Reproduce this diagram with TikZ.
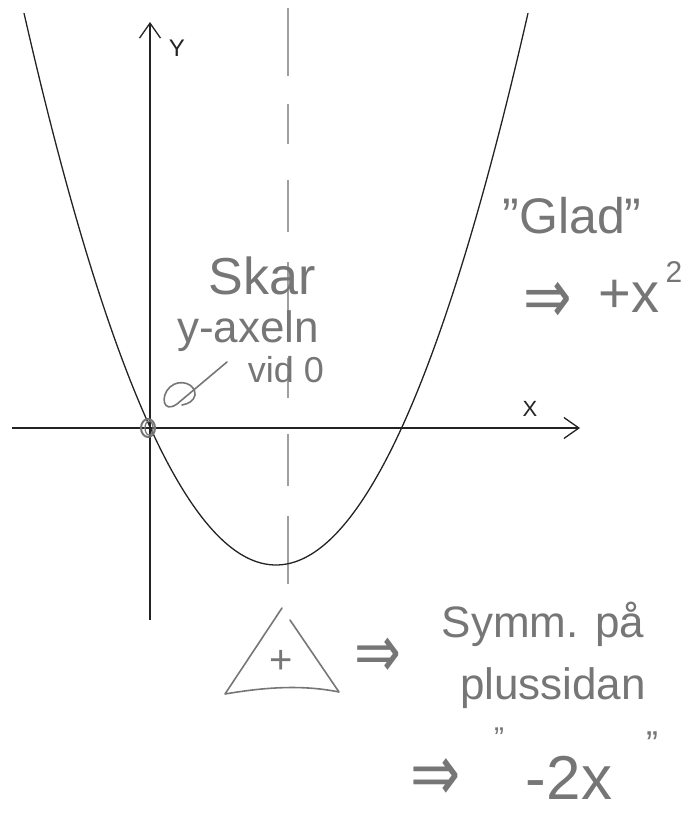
\documentclass[tikz,border=0pt]{standalone}
\usepackage{fontspec}
\setmainfont{Liberation Sans}
\newfontfamily\symfont{DejaVu Sans}
\usetikzlibrary{arrows.meta}
\definecolor{pencil}{RGB}{118,118,118}
\definecolor{ink}{RGB}{35,35,35}
\begin{document}
\begin{tikzpicture}[x=1pt,y=-1pt,
  axisline/.style={ink, line width=1.3pt, -{Straight Barb[length=15pt,width=21pt,line width=1.3pt]}},
  curve/.style={ink, line width=1.3pt},
  hand/.style={text=pencil, inner sep=0pt},
  implies/.style={text=pencil, inner sep=0pt, yscale=-1.35, transform shape},
  pen/.style={pencil, line width=1.6pt, line cap=round, line join=round},
  lbl/.style={text=ink, inner sep=0pt}]
\useasboundingbox (0,0) rectangle (699,813);
% symmetry line
\draw[pencil!70, line width=1.3pt, dash pattern=on 68pt off 28pt on 40pt off 36pt on 52pt off 30pt]
  (288,8) -- (288,598);
% axes
\coordinate (xs) at (12,428);
\coordinate (xe) at (580,428);
\coordinate (ys) at (150,620);
\coordinate (ye) at (150,22);
\draw[axisline] (xs) -- (xe);
\draw[axisline] (ys) -- (ye);
\node[lbl, font=\fontsize{22}{24}\selectfont] (xl) at (530,409) {X};
\node[lbl, font=\fontsize{24}{26}\selectfont] (yl) at (177,48) {Y};
% parabola
\draw[curve] plot[domain=24:528, samples=120, smooth] (\x, {565-0.869*((\x-276)/10)^2});
% origin mark
\draw[pencil, line width=2pt] (148,428) ellipse [x radius=7, y radius=9];
\draw[pencil, line width=1.2pt] (149,428) ellipse [x radius=4, y radius=7];
% annotations
\node[hand, font=\fontsize{52}{60}\selectfont] (skar) at (262,276) {Skar};
\node[hand, font=\fontsize{44}{50}\selectfont] (yax) at (248,331) {y-axeln};
\node[hand, font=\fontsize{36}{44}\selectfont] (vid) at (286,370) {vid 0};
\coordinate (p1) at (227,362);
\coordinate (p2) at (177,404);
\draw[pen] (p1) -- (p2) .. controls (163,414) and (160,396) .. (170,387)
  .. controls (180,378) and (196,384) .. (195,395) .. controls (194,401) and (188,404) .. (182,405);
\node[hand, font=\fontsize{50}{60}\selectfont] (glad) at (572,216) {"Glad"};
\node[implies, font=\symfont\fontsize{58}{62}\selectfont] (imp1) at (548,295) {⇒};
\node[hand, font=\fontsize{56}{60}\selectfont] (plusx) at (629,296) {+x};
\node[hand, font=\fontsize{30}{34}\selectfont] (sq) at (674,272) {2};
% triangle
\coordinate (ta) at (282,608);
\coordinate (tb) at (225,694);
\coordinate (tc) at (339,692);
\coordinate (td) at (290,620);
\draw[pen] (ta) -- (tb) .. controls (260,688) and (300,684) .. (tc) -- (td);
\node[hand, font=\fontsize{40}{44}\selectfont] (plus) at (281,662) {+};
\node[implies, font=\symfont\fontsize{56}{60}\selectfont] (imp2) at (378,650) {⇒};
\node[hand, font=\fontsize{44}{50}\selectfont] (symm) at (543,624) {Symm. på};
\node[hand, font=\fontsize{44}{50}\selectfont] (pluss) at (553,688) {plussidan};
\node[implies, font=\symfont\fontsize{60}{64}\selectfont] (imp3) at (436,772) {⇒};
\node[hand, font=\fontsize{30}{34}\selectfont] (q1) at (499,738) {"};
\node[hand, font=\fontsize{62}{66}\selectfont] (m2x) at (569,778) {-2x};
\node[hand, font=\fontsize{36}{40}\selectfont] (q2) at (652,744) {"};
\end{tikzpicture}
\end{document}
